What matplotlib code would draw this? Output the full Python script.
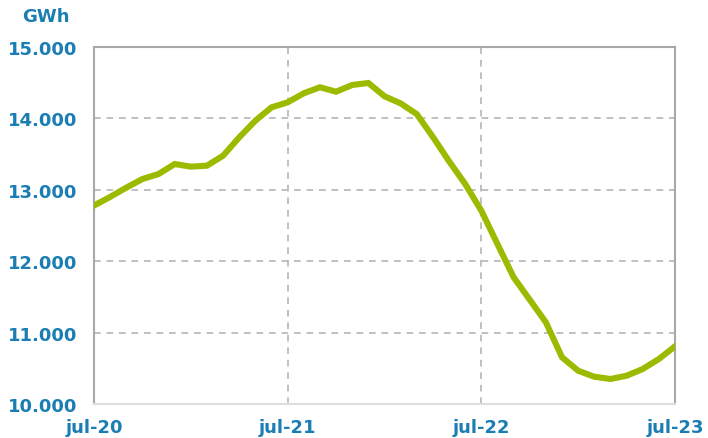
import matplotlib
matplotlib.use("Agg")
import matplotlib.pyplot as plt
import numpy as np

months = list(range(37))
values = [12780, 12900, 13030, 13151, 13221, 13361, 13324, 13338, 13478, 13735,
          13968, 14155, 14225, 14352, 14436, 14374, 14468, 14496, 14310, 14210,
          14060, 13740, 13400, 13081, 12707, 12240, 11775, 11460, 11144, 10654,
          10466, 10382, 10350, 10396, 10490, 10630, 10808]
xtick_pos = [0, 12, 24, 36]
xtick_labels = ["jul-20", "jul-21", "jul-22", "jul-23"]
ytick_vals = [10000, 11000, 12000, 13000, 14000, 15000]
ytick_labels = ["10.000", "11.000", "12.000", "13.000", "14.000", "15.000"]

blue = "#1A7DB3"
green = "#9CBB00"

fig = plt.figure(figsize=(7.08, 4.39), dpi=100)
ax = fig.add_axes([94/708, 1-405/439, (675-94)/708, (405-48)/439])
ax.plot(months, values, color=green, lw=4.4, solid_joinstyle="miter", zorder=3)
ax.set_xlim(0, 36)
ax.set_ylim(10000, 15000)
ax.set_xticks(xtick_pos)
ax.set_xticklabels(xtick_labels)
ax.set_yticks(ytick_vals)
ax.set_yticklabels(ytick_labels)
ax.tick_params(length=0, labelsize=13, labelcolor=blue)
ax.tick_params(axis="y", pad=12)
ax.tick_params(axis="x", pad=10)
for lab in ax.get_xticklabels() + ax.get_yticklabels():
    lab.set_fontweight("bold")
ax.grid(True, color="#B5B5B5", ls=(0, (4, 3.5)), lw=1.2)
for s in ax.spines.values():
    s.set_color("#A8A8A8")
    s.set_linewidth(1.5)
ax.spines["bottom"].set_color("#DDDDDD")
fig.text(22/708, 1-17/439, "GWh", color=blue, fontsize=13, fontweight="bold",
         ha="left", va="center")
fig.savefig("out.png", dpi=100)
